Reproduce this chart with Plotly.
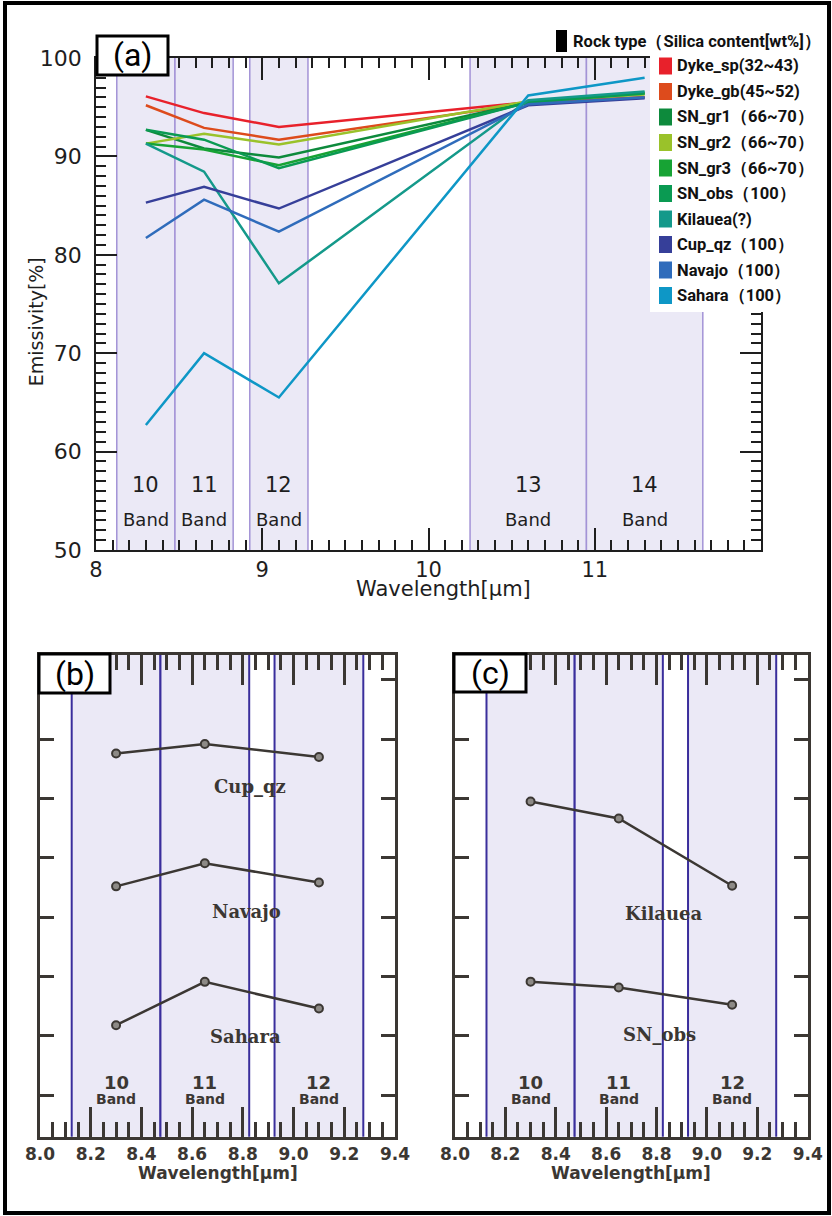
import plotly.graph_objects as go

W, H = 832, 1216

# ---------------- data ----------------
wavelength = [8.3, 8.65, 9.1, 10.6, 11.3]

rock_names = ["Dyke_sp", "Dyke_gb", "SN_gr1", "SN_gr2", "SN_gr3",
              "SN_obs", "Kilauea", "Cup_qz", "Navajo", "Sahara"]
legend_labels = ["Dyke_sp(32~43)", "Dyke_gb(45~52)", "SN_gr1（66~70）",
                 "SN_gr2（66~70）", "SN_gr3（66~70）", "SN_obs（100）",
                 "Kilauea(?)", "Cup_qz（100）", "Navajo（100）", "Sahara（100）"]

dyke_sp = [96.1, 94.4, 93.0, 95.5, 96.0]
dyke_gb = [95.2, 92.9, 91.7, 95.4, 96.0]
sn_gr1 = [92.7, 90.8, 89.9, 95.5, 96.4]
sn_gr2 = [91.3, 92.3, 91.2, 95.6, 96.3]
sn_gr3 = [91.3, 90.7, 89.1, 95.5, 96.5]
sn_obs = [92.7, 91.7, 88.8, 95.5, 96.4]
kilauea = [91.3, 88.45, 77.1, 95.7, 96.6]
cup_qz = [85.3, 86.9, 84.7, 95.2, 95.9]
navajo = [81.7, 85.6, 82.35, 95.3, 96.0]
sahara = [62.7, 70.0, 65.5, 96.2, 98.0]
series = [dyke_sp, dyke_gb, sn_gr1, sn_gr2, sn_gr3, sn_obs, kilauea, cup_qz, navajo, sahara]

colors = ["#e8212b", "#dd4b1c", "#0d8a3c", "#9ac22a", "#17a334",
          "#0a9a52", "#14998a", "#363f99", "#2f6cbb", "#0e97c6"]

band_names = ["10", "11", "12", "13", "14"]
band_lo = [8.125, 8.475, 8.925, 10.25, 10.95]
band_hi = [8.475, 8.825, 9.275, 10.95, 11.65]
band_center = [8.3, 8.65, 9.1, 10.6, 11.3]

# panels (b) and (c): stacked display, vertical offsets per rock (display layout)
panel_b = ["Cup_qz", "Navajo", "Sahara"]
panel_c = ["Kilauea", "SN_obs"]
stack_offset = {"Cup_qz": -20.7, "Navajo": -39.5, "Sahara": -43.9,
                "Kilauea": -34.8, "SN_obs": -66.56}
label_pos = {"Cup_qz": (8.83, 59.0), "Navajo": (8.815, 37.9), "Sahara": (8.81, 16.9),
             "Kilauea": (8.83, 37.7), "SN_obs": (8.81, 17.3)}

# ---------------- helpers ----------------
def fx(px):
    return px / W

def fy(py):
    return 1 - py / H

INK = "#1e1e1e"
INK2 = "#3b3733"
BAND_FILL = "#ebe9f6"
BAND_LINE_A = "#a393d6"
BAND_LINE_B = "#3a2e9c"
NARROW = "Roboto, sans-serif"

fig = go.Figure()

# ---------------- panel (a) ----------------
for name, vals, col in zip(rock_names, series, colors):
    fig.add_trace(go.Scatter(x=wavelength, y=vals, mode="lines",
                             line=dict(color=col, width=2.5),
                             name=name, showlegend=False, xaxis="x", yaxis="y"))

shapes = []
annotations = []
for lo, hi in zip(band_lo, band_hi):
    shapes.append(dict(type="rect", xref="x", yref="y domain", x0=lo, x1=hi, y0=0, y1=1,
                       fillcolor=BAND_FILL, line=dict(width=0), layer="below"))
    for xv in (lo, hi):
        shapes.append(dict(type="line", xref="x", yref="y domain", x0=xv, x1=xv, y0=0, y1=1,
                           line=dict(color=BAND_LINE_A, width=1.5), layer="below"))
for bn, bc in zip(band_names, band_center):
    annotations.append(dict(x=bc, y=56.6, xref="x", yref="y", text=bn, showarrow=False,
                            xanchor="center", yanchor="middle",
                            font=dict(family="DejaVu Sans", size=21, color=INK)))
    annotations.append(dict(x=bc, y=53.15, xref="x", yref="y", text="Band", showarrow=False,
                            xanchor="center", yanchor="middle",
                            font=dict(family="DejaVu Sans", size=18, color=INK)))

# ---------------- panels (b), (c) ----------------
def add_panel(names, xa, ya):
    for nm in names:
        i = rock_names.index(nm)
        vals = [v + stack_offset[nm] for v in series[i][:3]]
        fig.add_trace(go.Scatter(x=wavelength[:3], y=vals, mode="lines+markers",
                                 line=dict(color=INK2, width=2.5),
                                 marker=dict(size=8, color="#8d8a86",
                                             line=dict(color=INK2, width=2)),
                                 name=nm, showlegend=False, xaxis=xa, yaxis=ya))
        lx, ly = label_pos[nm]
        annotations.append(dict(x=lx, y=ly, xref=xa, yref=ya, text="<b>%s</b>" % nm,
                                showarrow=False, xanchor="center", yanchor="middle",
                                font=dict(family="DejaVu Serif", size=18, color=INK2)))
    for lo, hi in zip(band_lo[:3], band_hi[:3]):
        shapes.append(dict(type="rect", xref=xa, yref=ya + " domain", x0=lo, x1=hi, y0=0, y1=1,
                           fillcolor=BAND_FILL, line=dict(width=0), layer="below"))
        for xv in (lo, hi):
            shapes.append(dict(type="line", xref=xa, yref=ya + " domain", x0=xv, x1=xv, y0=0, y1=1,
                               line=dict(color=BAND_LINE_B, width=2), layer="below"))
    for bn, bc in zip(band_names[:3], band_center[:3]):
        annotations.append(dict(x=bc, y=9.1, xref=xa, yref=ya, text="<b>%s</b>" % bn,
                                showarrow=False, xanchor="center", yanchor="middle",
                                font=dict(family="DejaVu Sans", size=18, color=INK2)))
        annotations.append(dict(x=bc, y=6.4, xref=xa, yref=ya, text="<b>Band</b>",
                                showarrow=False, xanchor="center", yanchor="middle",
                                font=dict(family="DejaVu Sans", size=14, color=INK2)))

add_panel(panel_b, "x2", "y2")
add_panel(panel_c, "x3", "y3")

# ---------------- axes ----------------
ax_a = dict(showline=True, linecolor=INK, linewidth=1.5, mirror="ticks",
            ticks="inside", tickcolor=INK, tickwidth=1.5, showgrid=False, zeroline=False,
            tickfont=dict(family="DejaVu Sans", size=22, color=INK))
xa = dict(ax_a, domain=[fx(96), fx(761)], range=[8, 12], tickvals=[8, 9, 10, 11],
          ticklen=22, anchor="y", tickfont=dict(family="DejaVu Sans", size=21, color=INK),
          minor=dict(dtick=0.1, ticklen=10, tickwidth=1.5, tickcolor=INK, ticks="inside"))
ya = dict(ax_a, domain=[fy(550), fy(58)], range=[50, 100], dtick=10, ticklen=21,
          anchor="x", ticklabelstandoff=8,
          minor=dict(dtick=1, ticklen=10, tickwidth=1.5, tickcolor=INK, ticks="inside"))

ax_b = dict(showline=True, linecolor=INK2, linewidth=3, mirror="ticks",
            ticks="inside", tickcolor=INK2, tickwidth=2.5, showgrid=False, zeroline=False,
            tickfont=dict(family="DejaVu Sans", size=17, color=INK2, weight="bold"))
def xb(dom, anchor):
    return dict(ax_b, domain=dom, range=[8.0, 9.4], dtick=0.2, tick0=8.0, tickformat=".1f",
                ticklen=30, anchor=anchor,
                minor=dict(dtick=0.05, ticklen=15, tickwidth=2.5, tickcolor=INK2, ticks="inside"))
def yb(anchor):
    return dict(ax_b, domain=[fy(1136.7), fy(655)], range=[0, 81.2],
                tickvals=[7, 17, 27, 37, 47, 57, 67, 77], ticklen=14,
                showticklabels=False, anchor=anchor)

# ---------------- text / boxes ----------------
def pann(xp, yp, text, font, **kw):
    d = dict(x=fx(xp), y=fy(yp), xref="paper", yref="paper", text=text, showarrow=False,
             xanchor="center", yanchor="middle", font=font)
    d.update(kw)
    return d

annotations += [
    pann(36.7, 321.5, "Emissivity[%]", dict(family="DejaVu Sans", size=19, color=INK), textangle=-90),
    pann(443.5, 589, "Wavelength[μm]", dict(family="DejaVu Sans", size=21, color=INK)),
    pann(217.5, 1173.3, "<b>Wavelength[μm]</b>", dict(family="DejaVu Sans", size=17, color=INK2)),
    pann(631.3, 1173.3, "<b>Wavelength[μm]</b>", dict(family="DejaVu Sans", size=17, color=INK2)),
]

# legend (drawn manually: white panel, colour swatches, labels)
shapes.append(dict(type="rect", xref="paper", yref="paper", x0=fx(650), x1=fx(832),
                   y0=fy(312), y1=fy(55), fillcolor="white", line=dict(width=0), layer="above"))
annotations.append(pann(571, 42, "<b>Rock type（Silica content[wt%]）</b>",
                        dict(family=NARROW, size=16.5, color="#111111"), xanchor="left"))
shapes.append(dict(type="rect", xref="paper", yref="paper", x0=fx(556), x1=fx(567),
                   y0=fy(52), y1=fy(30), fillcolor="black", line=dict(width=0), layer="above"))
for k, (lab, col) in enumerate(zip(legend_labels, colors)):
    yc = 66 + 25.5 * k
    shapes.append(dict(type="rect", xref="paper", yref="paper", x0=fx(659), x1=fx(672),
                       y0=fy(yc + 8.5), y1=fy(yc - 8.5), fillcolor=col, line=dict(width=0),
                       layer="above"))
    annotations.append(pann(675, yc, "<b>%s</b>" % lab,
                            dict(family=NARROW, size=16.5, color="#111111"), xanchor="left"))

for lbl, (x0, y0, x1, y1) in [("(a)", (97, 36, 168, 75)), ("(b)", (39, 654, 110, 693)),
                              ("(c)", (454, 654, 526, 692))]:
    shapes.append(dict(type="rect", xref="paper", yref="paper", x0=fx(x0), x1=fx(x1),
                       y0=fy(y1), y1=fy(y0), fillcolor="white",
                       line=dict(color="black", width=3), layer="above"))
    annotations.append(pann((x0 + x1) / 2, (y0 + y1) / 2, lbl,
                            dict(family=NARROW, size=32, color="black")))
# outer frame
shapes.append(dict(type="rect", xref="paper", yref="paper", x0=fx(5), x1=fx(829),
                   y0=fy(1213), y1=fy(3), fillcolor="rgba(0,0,0,0)",
                   line=dict(color="black", width=4), layer="above"))

fig.update_layout(
    width=W, height=H, margin=dict(l=0, r=0, t=0, b=0, pad=0, autoexpand=False),
    paper_bgcolor="white", plot_bgcolor="white",
    xaxis=xa, yaxis=ya,
    xaxis2=xb([fx(40), fx(395)], "y2"), yaxis2=yb("x2"),
    xaxis3=xb([fx(455), fx(807.7)], "y3"), yaxis3=yb("x3"),
    shapes=shapes, annotations=annotations,
    showlegend=False,
)

fig.write_html("out.html", config={"displayModeBar": False},
               post_script="document.body.style.margin='0';")
